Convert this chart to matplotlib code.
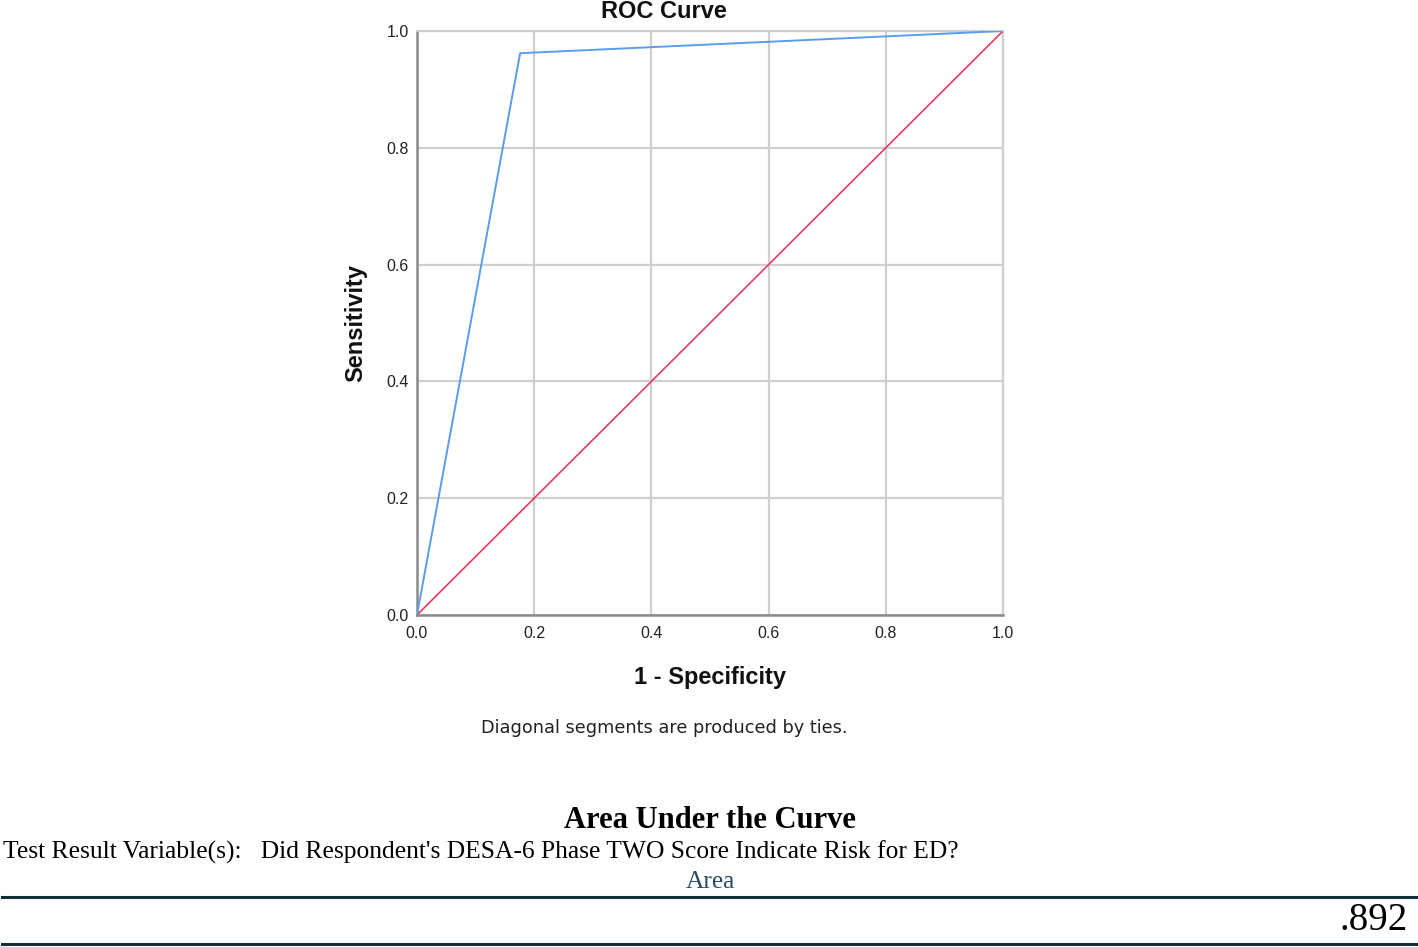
import matplotlib
matplotlib.use('Agg')
import matplotlib.pyplot as plt

# ROC curve points (1 - specificity, sensitivity)
fpr = [0.0, 0.176, 1.0]
tpr = [0.0, 0.962, 1.0]
ref_x = [0.0, 1.0]
ref_y = [0.0, 1.0]
ticks = [0.0, 0.2, 0.4, 0.6, 0.8, 1.0]
tick_labels = ['0.0', '0.2', '0.4', '0.6', '0.8', '1.0']
auc_value = '.892'
test_var = "Test Result Variable(s):   Did Respondent's DESA-6 Phase TWO Score Indicate Risk for ED?"

sans = 'Liberation Sans'
serif = 'Liberation Serif'

fig = plt.figure(figsize=(14.18, 9.47), dpi=100)
ax = fig.add_axes([417/1418, 1-615/947, 586/1418, 584/947])

ax.plot(ref_x, ref_y, color='#e8395e', lw=1.2, zorder=3)
ax.plot(fpr, tpr, color='#5b9cef', lw=1.4, zorder=4)

ax.set_xlim(0, 1)
ax.set_ylim(0, 1)
ax.set_xticks(ticks)
ax.set_yticks(ticks)
ax.set_xticklabels(tick_labels, family=sans, fontsize=11.5)
ax.set_yticklabels(tick_labels, family=sans, fontsize=11.5)
ax.grid(True, color='#cfcfcf', lw=1.6)
ax.set_axisbelow(True)
ax.tick_params(length=0, colors='#222222')
ax.tick_params(axis='x', pad=8)
ax.tick_params(axis='y', pad=6)
for s in ['top', 'right']:
    ax.spines[s].set_color('#cfcfcf')
    ax.spines[s].set_linewidth(1.6)
for s in ['left', 'bottom']:
    ax.spines[s].set_color('#8a8a8a')
    ax.spines[s].set_linewidth(1.8)
for lab in ax.get_yticklabels():
    lab.set_verticalalignment('center_baseline')

fig.text(664/1418, 1-11/947, 'ROC Curve', fontsize=17, fontweight='bold', family=sans,
         ha='center', va='center', color='#111111')
ax.set_xlabel('1 - Specificity', fontsize=17, fontweight='bold', family=sans, labelpad=18, color='#111111')
ax.set_ylabel('Sensitivity', fontsize=17, fontweight='bold', family=sans, labelpad=14, color='#111111')

fig.text(664/1418, 1-728/947, 'Diagonal segments are produced by ties.', fontsize=12.8,
         ha='center', va='center', color='#222222')

fig.text(710/1418, 1-820/947, 'Area Under the Curve', fontsize=22, fontweight='bold',
         family=serif, ha='center', va='center', color='#000000')
fig.text(3/1418, 1-852/947, test_var, fontsize=18.4, family=serif, ha='left', va='center', color='#000000')
fig.text(710/1418, 1-882/947, 'Area', fontsize=18.3, family=serif, ha='center', va='center', color='#264a60')
fig.text(1408/1418, 1-920/947, auc_value, fontsize=28, family=serif, ha='right', va='center', color='#000000')

fig.add_artist(plt.Line2D([2/1418, 1], [1-897/947, 1-897/947], color='#152e35', lw=2.2))
fig.add_artist(plt.Line2D([2/1418, 1], [1-944/947, 1-944/947], color='#152e35', lw=2.2))

fig.savefig('out.png', dpi=100)
